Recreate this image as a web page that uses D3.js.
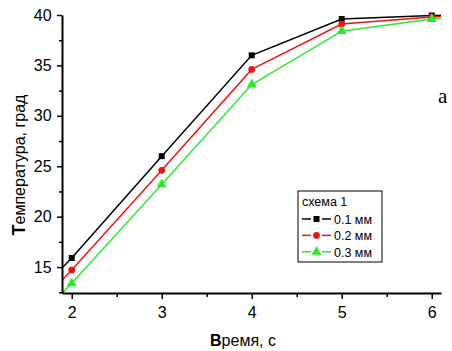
<!DOCTYPE html>
<html>
<head>
<meta charset="utf-8">
<script src="https://cdn.jsdelivr.net/npm/d3@7"></script>
<style>
  body { margin: 0; background: #fff; }
  text { font-family: "Liberation Sans", Arial, sans-serif; fill: #000; }
</style>
</head>
<body>
<div id="chart"></div>
<script>
// time points (the first and last lie outside the axes and are clipped)
const times = [1, 2, 3, 4, 5, 6, 7];
const temp01 = [6.7, 15.9, 26.0, 36.0, 39.6, 39.95, 40.3];
const temp02 = [5.4, 14.7, 24.6, 34.6, 39.1, 39.8, 40.2];
const temp03 = [4.1, 13.4, 23.2, 33.1, 38.4, 39.6, 40.0];
const seriesNames = ["0.1 мм", "0.2 мм", "0.3 мм"];
const xTicks = [2, 3, 4, 5, 6];
const yTicks = [15, 20, 25, 30, 35, 40];

const W = 452, H = 351;
const colors = ["#000000", "#e81515", "#2ee82e"];
const shapes = [d3.symbolSquare, d3.symbolCircle, d3.symbolTriangle];
const symSize = [36, 36, 44];

const svg = d3.select("#chart").append("svg")
    .attr("width", W)
    .attr("height", H);

const x = d3.scaleLinear().domain([1.892, 6.103]).range([62, 441]);
const y = d3.scaleLinear().domain([12.43, 40]).range([293, 15]);

svg.append("clipPath").attr("id", "clip")
    .append("rect")
    .attr("x", 62).attr("y", 0)
    .attr("width", 441 - 62).attr("height", 293);

const series = [temp01, temp02, temp03].map((vals, i) => ({
    name: seriesNames[i],
    color: colors[i],
    shape: shapes[i],
    size: symSize[i],
    points: times.map((t, j) => ({ t: t, v: vals[j] }))
}));

const line = d3.line().x(d => x(d.t)).y(d => y(d.v));

const plot = svg.append("g").attr("clip-path", "url(#clip)");

series.forEach(s => {
    plot.append("path")
        .datum(s.points)
        .attr("fill", "none")
        .attr("stroke", s.color)
        .attr("stroke-width", 1.5)
        .attr("d", line);
});

series.forEach(s => {
    plot.selectAll(null)
        .data(s.points)
        .enter()
        .append("path")
        .attr("transform", d => `translate(${x(d.t)},${y(d.v)})`)
        .attr("d", d3.symbol().type(s.shape).size(s.size))
        .attr("fill", s.color);
});

// axes
const xAxis = svg.append("g")
    .attr("transform", "translate(0,293)")
    .call(d3.axisBottom(x).tickValues(xTicks).tickFormat(d3.format("d")).tickSize(6).tickSizeOuter(0));
svg.append("g")
    .attr("transform", "translate(0,293)")
    .call(d3.axisBottom(x).tickValues([2.5, 3.5, 4.5, 5.5]).tickFormat("").tickSize(4).tickSizeOuter(0))
    .select(".domain").remove();

const yAxis = svg.append("g")
    .attr("transform", "translate(62,0)")
    .call(d3.axisLeft(y).tickValues(yTicks).tickFormat(d3.format("d")).tickSize(5).tickSizeOuter(0));
svg.append("g")
    .attr("transform", "translate(62,0)")
    .call(d3.axisLeft(y).tickValues([12.5, 17.5, 22.5, 27.5, 32.5, 37.5]).tickFormat("").tickSize(3).tickSizeOuter(0))
    .select(".domain").remove();

svg.selectAll(".domain").attr("stroke-width", 2);
svg.selectAll(".tick line").attr("stroke-width", 1.5);
xAxis.selectAll("text").attr("font-size", 16).attr("dy", "1.0em").style("font-family", "Liberation Sans, Arial, sans-serif");
yAxis.selectAll("text").attr("font-size", 16).attr("dx", "-0.15em").style("font-family", "Liberation Sans, Arial, sans-serif");

// axis titles (first letter drawn slightly larger, as in the original)
const yTitle = svg.append("text")
    .attr("transform", "translate(25,165) rotate(-90)")
    .attr("text-anchor", "middle")
    .attr("font-size", 16);
yTitle.append("tspan").attr("font-size", 18).attr("font-weight", "bold").text("Т");
yTitle.append("tspan").text("емпература, град");

const xTitle = svg.append("text")
    .attr("x", 243)
    .attr("y", 346)
    .attr("text-anchor", "middle")
    .attr("font-size", 16);
xTitle.append("tspan").attr("font-weight", "bold").text("В");
xTitle.append("tspan").text("ремя, с");

// panel letter
svg.append("text")
    .attr("x", 438)
    .attr("y", 103)
    .attr("font-size", 21)
    .style("font-family", "Liberation Serif, Times New Roman, serif")
    .text("a");

// legend
const legend = svg.append("g").attr("transform", "translate(298,191)");
legend.append("rect")
    .attr("width", 84).attr("height", 71)
    .attr("fill", "#fff").attr("stroke", "#000").attr("stroke-width", 1);
legend.append("text")
    .attr("x", 4).attr("y", 15)
    .attr("font-size", 12.5)
    .text("схема 1");

series.forEach((s, i) => {
    const row = legend.append("g").attr("transform", `translate(0,${28 + i * 16.4})`);
    [[4, 13], [24, 33]].forEach(seg => {
        row.append("line")
            .attr("x1", seg[0]).attr("x2", seg[1])
            .attr("stroke", s.color).attr("stroke-width", 1.5);
    });
    row.append("path")
        .attr("transform", "translate(18.5,0)")
        .attr("d", d3.symbol().type(s.shape).size(s.size))
        .attr("fill", s.color);
    row.append("text")
        .attr("x", 36).attr("y", 5)
        .attr("font-size", 12.5)
        .text(s.name);
});
</script>
</body>
</html>
